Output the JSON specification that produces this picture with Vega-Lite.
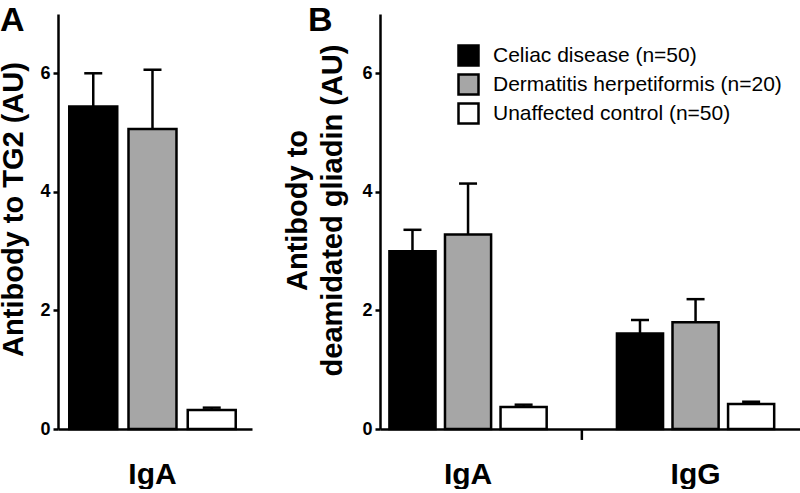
{
  "$schema": "https://vega.github.io/schema/vega-lite/v6.json",
  "padding": {"left": -1, "top": 4, "right": 0, "bottom": 0},
  "spacing": 31,
  "datasets": {
    "panelA": [
      {"isotype": "IgA", "group": "Celiac disease (n=50)", "mean": 5.44, "upper": 6.0},
      {"isotype": "IgA", "group": "Dermatitis herpetiformis (n=20)", "mean": 5.06, "upper": 6.06},
      {"isotype": "IgA", "group": "Unaffected control (n=50)", "mean": 0.32, "upper": 0.36}
    ],
    "panelB": [
      {"isotype": "IgA", "group": "Celiac disease (n=50)", "mean": 3.0, "upper": 3.36},
      {"isotype": "IgA", "group": "Dermatitis herpetiformis (n=20)", "mean": 3.28, "upper": 4.14},
      {"isotype": "IgA", "group": "Unaffected control (n=50)", "mean": 0.37, "upper": 0.41},
      {"isotype": "IgG", "group": "Celiac disease (n=50)", "mean": 1.61, "upper": 1.84},
      {"isotype": "IgG", "group": "Dermatitis herpetiformis (n=20)", "mean": 1.8, "upper": 2.19},
      {"isotype": "IgG", "group": "Unaffected control (n=50)", "mean": 0.42, "upper": 0.46}
    ]
  },
  "config": {
    "font": "Liberation Sans",
    "view": {"stroke": null},
    "axis": {
      "domainColor": "black", "domainWidth": 2.5, "tickColor": "black", "tickWidth": 2.5,
      "labelColor": "black", "titleColor": "black", "grid": false,
      "labelFont": "Liberation Sans", "titleFont": "Liberation Sans"
    },
    "legend": {"labelFont": "Liberation Sans"}
  },
  "resolve": {
    "scale": {"x": "independent", "y": "independent", "xOffset": "independent", "fill": "independent"},
    "legend": {"fill": "independent"}
  },
  "hconcat": [
    {
      "width": 194,
      "height": 415,
      "data": {"name": "panelA"},
      "encoding": {
        "x": {
          "field": "isotype", "type": "nominal", "sort": ["IgA"],
          "scale": {"paddingInner": 0, "paddingOuter": 0.044, "align": 0.34},
          "axis": {"title": null, "ticks": false, "tickSize": 0, "labelAngle": 0, "labelFontSize": 30, "labelFontWeight": "bold", "labelPadding": 30}
        }
      },
      "layer": [
        {
          "mark": {"type": "bar", "stroke": "black", "strokeWidth": 2.5},
          "encoding": {
            "xOffset": {"field": "group", "type": "nominal", "sort": ["Celiac disease (n=50)", "Dermatitis herpetiformis (n=20)", "Unaffected control (n=50)"], "scale": {"paddingInner": 0.19, "paddingOuter": 0.1}},
            "y": {
              "field": "mean", "type": "quantitative", "title": "Antibody to TG2 (AU)",
              "scale": {"domain": [0, 7], "nice": false},
              "axis": {"values": [0, 2, 4, 6], "format": "d", "tickSize": 5, "labelPadding": 3, "labelFontSize": 18, "labelFontWeight": "bold", "titleFontSize": 29, "titleFontWeight": "bold", "titlePadding": 11, "titleY": 195}
            },
            "fill": {
              "field": "group", "type": "nominal",
              "scale": {"domain": ["Celiac disease (n=50)", "Dermatitis herpetiformis (n=20)", "Unaffected control (n=50)"], "range": ["#000000", "#a6a6a6", "#ffffff"]},
              "legend": null
            }
          }
        },
        {
          "mark": {"type": "rule", "strokeWidth": 2.5, "color": "black"},
          "encoding": {
            "xOffset": {"field": "group", "type": "nominal", "sort": ["Celiac disease (n=50)", "Dermatitis herpetiformis (n=20)", "Unaffected control (n=50)"], "scale": {"paddingInner": 0.19, "paddingOuter": 0.1}},
            "y": {"field": "mean", "type": "quantitative", "title": "Antibody to TG2 (AU)", "scale": {"domain": [0, 7], "nice": false}},
            "y2": {"field": "upper"}
          }
        },
        {
          "mark": {"type": "tick", "size": 18, "thickness": 2.5, "color": "black", "opacity": 1},
          "encoding": {
            "xOffset": {"field": "group", "type": "nominal", "sort": ["Celiac disease (n=50)", "Dermatitis herpetiformis (n=20)", "Unaffected control (n=50)"], "scale": {"paddingInner": 0.19, "paddingOuter": 0.1}},
            "y": {"field": "upper", "type": "quantitative", "title": "Antibody to TG2 (AU)", "scale": {"domain": [0, 7], "nice": false}}
          }
        },
        {
          "data": {"values": [{}]},
          "mark": {"type": "text", "fontSize": 34, "fontWeight": "bold", "align": "left", "baseline": "alphabetic", "clip": false, "color": "black"},
          "encoding": {
            "x": {"datum": "IgA", "bandPosition": -0.355},
            "y": {"datum": 6.71, "type": "quantitative", "scale": {"domain": [0, 7], "nice": false}},
            "text": {"value": "A"}
          }
        }
      ]
    },
    {
      "width": 420,
      "height": 415,
      "data": {"name": "panelB"},
      "encoding": {
        "x": {
          "field": "isotype", "type": "nominal", "sort": ["IgA", "IgG"],
          "scale": {"paddingInner": 0.26, "paddingOuter": 0.053, "align": 0.16},
          "axis": {"title": null, "ticks": false, "tickSize": 0, "labelAngle": 0, "labelFontSize": 30, "labelFontWeight": "bold", "labelPadding": 30}
        }
      },
      "layer": [
        {
          "mark": {"type": "bar", "stroke": "black", "strokeWidth": 2.5},
          "encoding": {
            "xOffset": {"field": "group", "type": "nominal", "sort": ["Celiac disease (n=50)", "Dermatitis herpetiformis (n=20)", "Unaffected control (n=50)"], "scale": {"paddingInner": 0.17, "paddingOuter": 0.1}},
            "y": {
              "field": "mean", "type": "quantitative", "title": ["Antibody to", "deamidated gliadin (AU)"],
              "scale": {"domain": [0, 7], "nice": false},
              "axis": {"values": [0, 2, 4, 6], "format": "d", "tickSize": 5, "labelPadding": 3, "labelFontSize": 18, "labelFontWeight": "bold", "titleFontSize": 29, "titleFontWeight": "bold", "titlePadding": 14, "titleLineHeight": 35, "titleY": 196}
            },
            "fill": {
              "field": "group", "type": "nominal",
              "scale": {"domain": ["Celiac disease (n=50)", "Dermatitis herpetiformis (n=20)", "Unaffected control (n=50)"], "range": ["#000000", "#a6a6a6", "#ffffff"]},
              "legend": {
                "orient": "none", "legendX": 77, "legendY": 30, "title": null, "padding": 0,
                "symbolType": "square", "symbolSize": 400, "symbolStrokeColor": "black", "symbolStrokeWidth": 2.5, "symbolOpacity": 1,
                "labelFontSize": 21, "labelOffset": 13, "rowPadding": -2, "labelColor": "black", "labelLimit": 400
              }
            }
          }
        },
        {
          "mark": {"type": "rule", "strokeWidth": 2.5, "color": "black"},
          "encoding": {
            "xOffset": {"field": "group", "type": "nominal", "sort": ["Celiac disease (n=50)", "Dermatitis herpetiformis (n=20)", "Unaffected control (n=50)"], "scale": {"paddingInner": 0.17, "paddingOuter": 0.1}},
            "y": {"field": "mean", "type": "quantitative", "title": ["Antibody to", "deamidated gliadin (AU)"], "scale": {"domain": [0, 7], "nice": false}},
            "y2": {"field": "upper"}
          }
        },
        {
          "mark": {"type": "tick", "size": 18, "thickness": 2.5, "color": "black", "opacity": 1},
          "encoding": {
            "xOffset": {"field": "group", "type": "nominal", "sort": ["Celiac disease (n=50)", "Dermatitis herpetiformis (n=20)", "Unaffected control (n=50)"], "scale": {"paddingInner": 0.17, "paddingOuter": 0.1}},
            "y": {"field": "upper", "type": "quantitative", "title": ["Antibody to", "deamidated gliadin (AU)"], "scale": {"domain": [0, 7], "nice": false}}
          }
        },
        {
          "data": {"values": [{}]},
          "mark": {"type": "rule", "strokeWidth": 2.5, "color": "black", "clip": false},
          "encoding": {
            "x": {"datum": "IgA", "bandPosition": 1.176},
            "y": {"datum": 0, "type": "quantitative", "scale": {"domain": [0, 7], "nice": false}},
            "y2": {"datum": -0.185}
          }
        },
        {
          "data": {"values": [{}]},
          "mark": {"type": "text", "fontSize": 34, "fontWeight": "bold", "align": "left", "baseline": "alphabetic", "clip": false, "color": "black"},
          "encoding": {
            "x": {"datum": "IgA", "bandPosition": -0.4506},
            "y": {"datum": 6.71, "type": "quantitative", "scale": {"domain": [0, 7], "nice": false}},
            "text": {"value": "B"}
          }
        }
      ]
    }
  ]
}
